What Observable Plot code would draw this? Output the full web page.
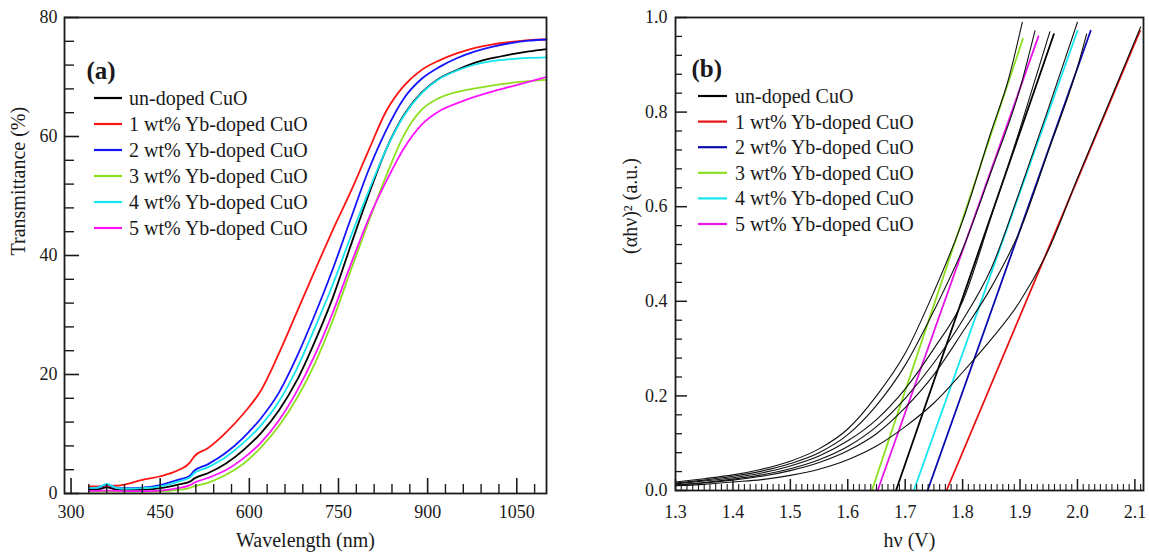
<!DOCTYPE html>
<html><head><meta charset="utf-8">
<script src="https://cdn.jsdelivr.net/npm/d3@7"></script>
<script src="https://cdn.jsdelivr.net/npm/@observablehq/plot@0.6"></script>
<style>
body{margin:0;background:#fff;}
#wrap{width:1149px;height:557px;display:flex;}
#wrap svg{display:block;flex:none;font-family:'Liberation Serif','Times New Roman',serif !important;}
#wrap svg text{font-family:'Liberation Serif','Times New Roman',serif !important;}
</style></head><body><div id="wrap"></div>
<script>
// ---------- shared ----------
const seriesNames = ["un-doped CuO","1 wt% Yb-doped CuO","2 wt% Yb-doped CuO","3 wt% Yb-doped CuO","4 wt% Yb-doped CuO","5 wt% Yb-doped CuO"];
const colorsA = ["#000000","#ff1414","#1414ff","#8ce01e","#14e6f0","#ff14ff"];
const colorsB = ["#000000","#e81010","#0a0ab0","#8ce01e","#14e6f0","#e614e6"];

// ---------- panel (a): transmittance ----------
const wavelength = [330,345,360,375,390,420,450,480,500,507,530,560,590,620,650,680,710,740,770,800,830,860,890,920,950,980,1010,1040,1070,1100];
const transUndoped = [0.65,0.7,1.05,0.7,0.6,0.6,0.9,1.5,2.0,2.5,3.4,5.0,7.3,10.2,14.0,19.0,25.5,32.8,41.5,50.0,57.8,63.6,67.4,69.8,71.2,72.4,73.2,73.8,74.3,74.7];
const trans1wt = [1.2,1.2,1.3,1.3,1.5,2.3,2.9,3.9,5.2,6.2,7.6,10.2,13.4,17.4,23.6,30.5,37.4,44.2,50.6,57.5,64.2,68.5,71.2,72.8,74.0,74.9,75.5,75.9,76.2,76.3];
const trans2wt = [0.9,1.0,1.5,1.0,0.9,1.0,1.4,2.3,3.0,3.8,4.9,6.8,9.4,12.7,17.0,23.0,30.0,37.6,46.0,54.2,61.0,66.4,69.7,71.7,73.2,74.3,75.1,75.7,76.1,76.3];
const trans3wt = [0.33,0.33,0.35,0.33,0.3,0.3,0.35,0.6,0.95,1.2,1.8,3.1,5.0,7.8,11.4,16.0,21.8,29.0,37.3,45.5,53.3,60.2,64.5,66.5,67.5,68.1,68.6,69.0,69.3,69.5];
const trans4wt = [0.9,1.0,1.6,1.0,0.8,0.9,1.2,2.0,2.7,3.4,4.4,6.1,8.5,11.5,15.5,21.0,27.8,35.0,43.0,50.6,57.8,63.5,67.3,69.7,71.1,72.1,72.7,73.0,73.2,73.3];
const trans5wt = [0.45,0.45,0.5,0.45,0.4,0.4,0.5,0.9,1.4,1.8,2.6,3.9,5.9,8.6,12.3,17.2,23.2,30.3,38.3,46.0,52.4,58.0,62.0,64.3,65.6,66.7,67.6,68.4,69.2,70.0];
const xTicksA = [300,450,600,750,900,1050];
const xMinorA = [330,360,390,420,480,510,540,570,630,660,690,720,780,810,840,870,930,960,990,1020,1080];
const yTicksA = [0,20,40,60,80];
const yMinorA = [4,8,12,16,24,28,32,36,44,48,52,56,64,68,72,76];

// ---------- panel (b): Tauc plot ----------
const hvUndoped = [1.30,1.35,1.40,1.45,1.50,1.55,1.60,1.65,1.70,1.75,1.80,1.85,1.90,1.952];
const taucUndoped = [0.014,0.020,0.027,0.037,0.052,0.073,0.105,0.15,0.215,0.30,0.40,0.58,0.765,0.97];
const hv1wt = [1.30,1.35,1.40,1.45,1.50,1.55,1.60,1.65,1.70,1.75,1.80,1.85,1.90,1.95,2.00,2.05,2.11];
const tauc1wt = [0.010,0.013,0.018,0.023,0.032,0.045,0.065,0.094,0.135,0.185,0.25,0.32,0.40,0.51,0.66,0.805,0.98];
const hv2wt = [1.30,1.35,1.40,1.45,1.50,1.55,1.60,1.65,1.70,1.75,1.80,1.85,1.90,1.95,2.00,2.016];
const tauc2wt = [0.011,0.016,0.022,0.030,0.042,0.059,0.084,0.12,0.175,0.245,0.335,0.43,0.55,0.72,0.895,0.965];
const hv3wt = [1.30,1.35,1.40,1.45,1.50,1.55,1.60,1.65,1.70,1.75,1.80,1.85,1.88,1.904];
const tauc3wt = [0.018,0.025,0.033,0.045,0.062,0.088,0.13,0.20,0.29,0.42,0.57,0.76,0.87,0.99];
const hv4wt = [1.30,1.35,1.40,1.45,1.50,1.55,1.60,1.65,1.70,1.75,1.80,1.85,1.90,1.95,2.00];
const tauc4wt = [0.012,0.017,0.024,0.033,0.046,0.065,0.093,0.135,0.195,0.27,0.36,0.47,0.635,0.81,0.99];
const hv5wt = [1.30,1.35,1.40,1.45,1.50,1.55,1.60,1.65,1.70,1.75,1.80,1.85,1.90,1.926];
const tauc5wt = [0.016,0.022,0.030,0.041,0.057,0.080,0.118,0.18,0.265,0.38,0.51,0.675,0.85,0.972];
// linear fits: start at (fitX0, 0), end at (fitX1, fitY1)
const fitX0 = [1.684,1.772,1.739,1.642,1.715,1.652];
const fitX1 = [1.959,2.109,2.023,1.905,2.000,1.932];
const fitY1 = [0.965,0.972,0.972,0.955,0.972,0.960];
const xTicksB = [1.3,1.4,1.5,1.6,1.7,1.8,1.9,2.0,2.1];
const xMinorB = d3.range(130,212).filter(d => d % 10 !== 0).map(d => d/100);
const yTicksB = [0,0.2,0.4,0.6,0.8,1.0];
const yMinorB = [0.04,0.08,0.12,0.16,0.24,0.28,0.32,0.36,0.44,0.48,0.52,0.56,0.64,0.68,0.72,0.76,0.84,0.88,0.92,0.96];

// ---------- build tables ----------
const transSeries = [transUndoped,trans1wt,trans2wt,trans3wt,trans4wt,trans5wt];
const rowsA = seriesNames.flatMap((name,s) => wavelength.map((w,i) => ({name, w, t: transSeries[s][i]})));
const hvSeries = [hvUndoped,hv1wt,hv2wt,hv3wt,hv4wt,hv5wt];
const taucSeries = [taucUndoped,tauc1wt,tauc2wt,tauc3wt,tauc4wt,tauc5wt];
const rowsB = seriesNames.flatMap((name,s) => hvSeries[s].map((h,i) => ({name, h, v: taucSeries[s][i]})));
const fitRows = seriesNames.flatMap((name,s) => [{name, h: fitX0[s], v: 0},{name, h: fitX1[s], v: fitY1[s]}]);

const font = "'Liberation Serif', 'Times New Roman', serif";
const txt = "#1a1a1a";

// Panel (a) geometry
const WA = 575, HA = 557, mlA = 64, mrA = 29, mtA = 17, mbA = 64;
const fwA = WA - mlA - mrA, fhA = HA - mtA - mbA;

const plotA = Plot.plot({
  width: WA, height: HA, marginLeft: mlA, marginRight: mrA, marginTop: mtA, marginBottom: mbA,
  style: {fontFamily: font, fontSize: "18px", color: txt, background: "white"},
  x: {domain: [289, 1100]},
  y: {domain: [0, 80]},
  color: {domain: seriesNames, range: colorsA},
  marks: [
    Plot.line(rowsA, {x: "w", y: "t", z: "name", stroke: "name", curve: "monotone-x", strokeWidth: 1.8}),
    Plot.tickX(xTicksA, {x: d => d, insetTop: fhA - 15, stroke: txt, strokeWidth: 1.6}),
    Plot.tickX(xMinorA, {x: d => d, insetTop: fhA - 9, stroke: txt, strokeWidth: 1.4}),
    Plot.tickY(yTicksA, {y: d => d, insetRight: fwA - 15, stroke: txt, strokeWidth: 1.6}),
    Plot.tickY(yMinorA, {y: d => d, insetRight: fwA - 10, stroke: txt, strokeWidth: 1.4}),
    Plot.axisX({ticks: xTicksA, tickSize: 0, tickPadding: 12, tickFormat: d3.format("d"), label: null, fontFamily: font}),
    Plot.axisY({ticks: yTicksA, tickSize: 0, tickPadding: 7, tickFormat: d3.format("d"), label: null, fontFamily: font}),
    Plot.frame({stroke: txt, strokeWidth: 1.8}),
    Plot.text(["(a)"], {frameAnchor: "top-left", dx: 22, dy: 44, textAnchor: "start", fontSize: 25, fontWeight: "bold", fill: txt, fontFamily: font}),
    Plot.text(["Wavelength (nm)"], {frameAnchor: "bottom", dy: 53, fontSize: 20, fill: txt, fontFamily: font}),
    Plot.text(["Transmittance (%)"], {frameAnchor: "left", dx: -46, rotate: -90, fontSize: 20, fill: txt, fontFamily: font})
  ]
});

// Panel (b) geometry
const WB = 574, HB = 557, mlB = 100, mrB = 6, mtB = 17, mbB = 67;
const fwB = WB - mlB - mrB, fhB = HB - mtB - mbB;

const plotB = Plot.plot({
  width: WB, height: HB, marginLeft: mlB, marginRight: mrB, marginTop: mtB, marginBottom: mbB,
  style: {fontFamily: font, fontSize: "18px", color: txt, background: "white"},
  x: {domain: [1.3, 2.115]},
  y: {domain: [0, 1.0]},
  color: {domain: seriesNames, range: colorsB},
  marks: [
    Plot.line(fitRows, {x: "h", y: "v", z: "name", stroke: "name", strokeWidth: 1.8}),
    Plot.line(rowsB, {x: "h", y: "v", z: "name", stroke: "#111", curve: "monotone-x", strokeWidth: 1.1}),
    Plot.tickX(xTicksB, {x: d => d, insetTop: fhB - 11, stroke: txt, strokeWidth: 1.5}),
    Plot.tickX(xMinorB, {x: d => d, insetTop: fhB - 6, stroke: txt, strokeWidth: 1.1}),
    Plot.tickY(yTicksB, {y: d => d, insetRight: fwB - 12, stroke: txt, strokeWidth: 1.5}),
    Plot.tickY(yMinorB, {y: d => d, insetRight: fwB - 7, stroke: txt, strokeWidth: 1.3}),
    Plot.axisX({ticks: xTicksB, tickSize: 0, tickPadding: 15, tickFormat: d3.format(".1f"), label: null, fontFamily: font}),
    Plot.axisY({ticks: yTicksB, tickSize: 0, tickPadding: 8, tickFormat: d3.format(".1f"), label: null, fontFamily: font}),
    Plot.frame({stroke: txt, strokeWidth: 1.8}),
    Plot.text(["(b)"], {frameAnchor: "top-left", dx: 16, dy: 42, textAnchor: "start", fontSize: 25, fontWeight: "bold", fill: txt, fontFamily: font}),
    Plot.text(["hν (V)"], {frameAnchor: "bottom", dy: 56, fontSize: 20, fill: txt, fontFamily: font}),
    Plot.text(["(αhν)² (a.u.)"], {frameAnchor: "left", dx: -45, rotate: -90, fontSize: 20, fill: txt, fontFamily: font})
  ]
});

// legends
function addLegend(svgEl, colors, x1, x2, xt, y0, step) {
  const svg = d3.select(svgEl);
  const g = svg.append("g").attr("font-family", font).attr("font-size", 20)
    .attr("fill", txt).attr("text-anchor", "start");
  seriesNames.forEach((n, i) => {
    const y = y0 + step * i;
    g.append("line").attr("x1", x1).attr("x2", x2).attr("y1", y).attr("y2", y)
      .attr("stroke", colors[i]).attr("stroke-width", 2.2);
    g.append("text").attr("x", xt).attr("y", y).attr("dy", "0.35em")
      .attr("text-anchor", "start").text(n);
  });
}
addLegend(plotA, colorsA, 94, 122, 129, 98, 26);
addLegend(plotB, colorsB, 123, 152, 160, 96, 25.6);

const wrap = document.getElementById("wrap");
wrap.appendChild(plotA);
wrap.appendChild(plotB);
</script></body></html>
